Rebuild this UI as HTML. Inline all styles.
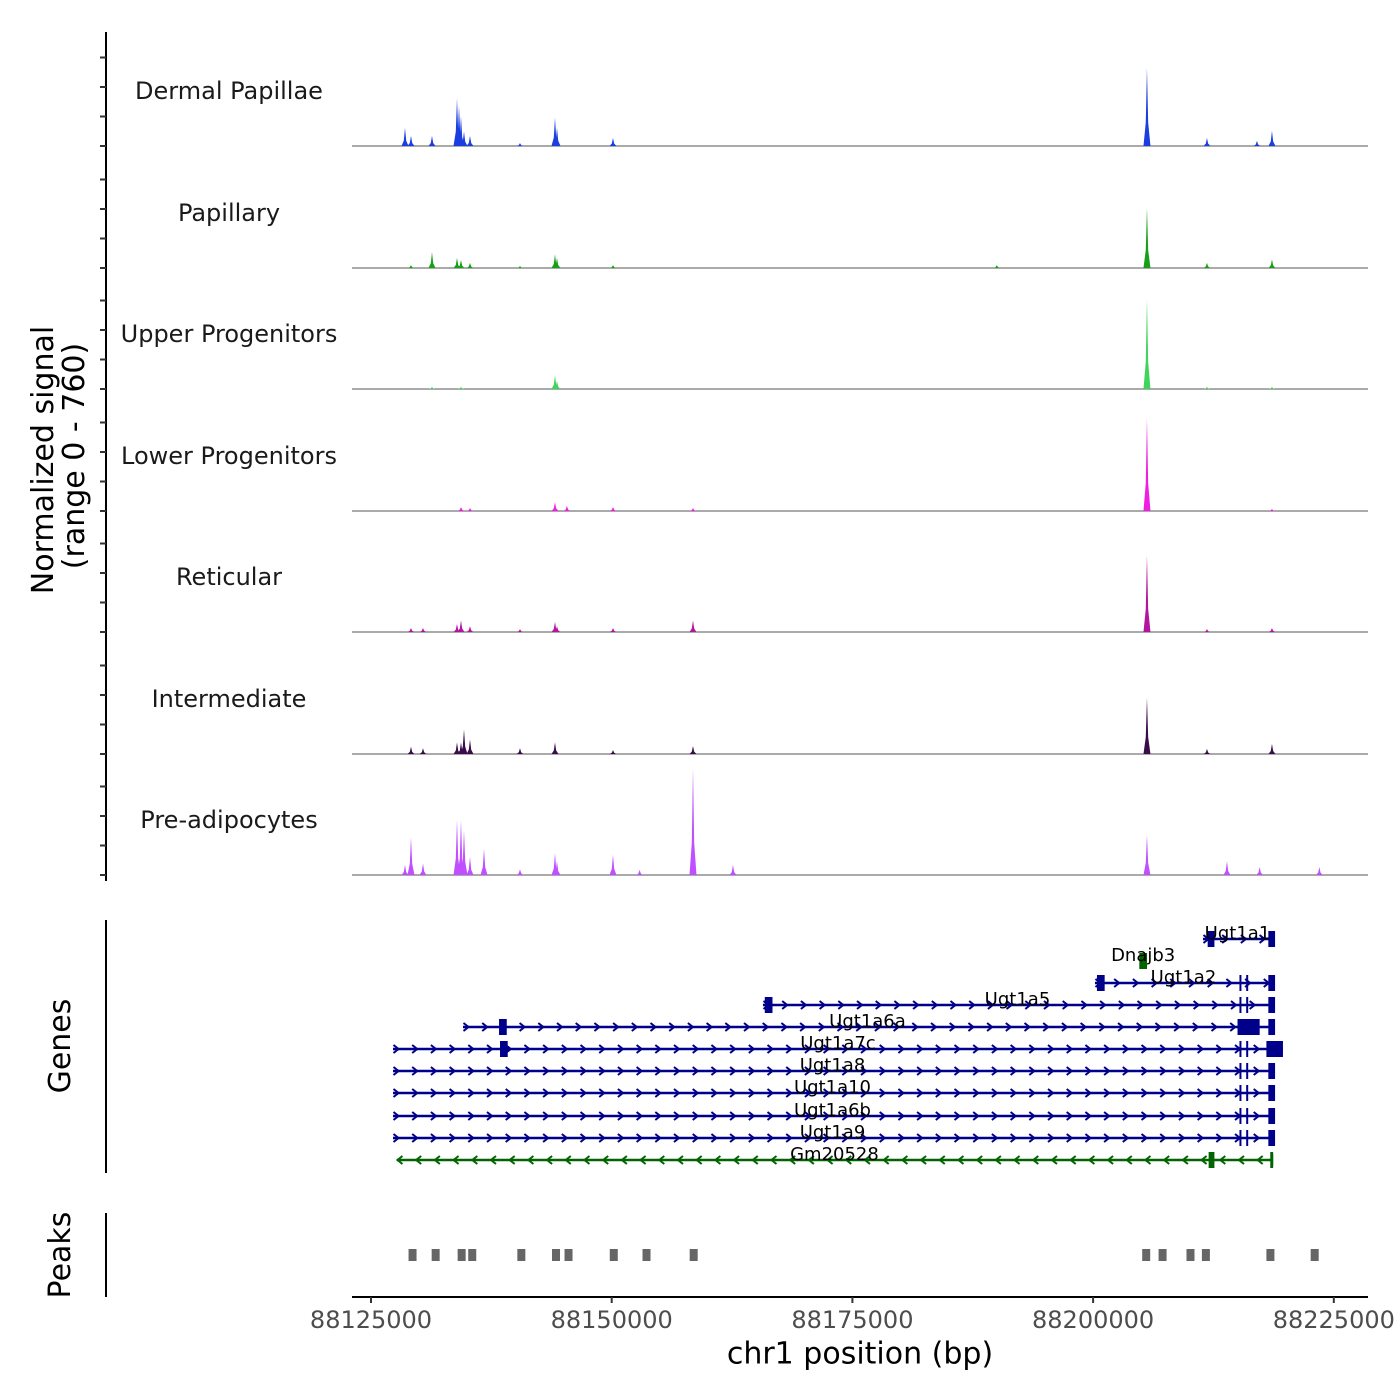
<!DOCTYPE html>
<html><head><meta charset="utf-8"><style>
html,body{margin:0;padding:0;background:#fff}
svg{display:block;font-family:"DejaVu Sans","Liberation Sans",sans-serif}
</style></head><body>
<svg id="c" width="1400" height="1400" viewBox="0 0 1400 1400" xmlns="http://www.w3.org/2000/svg"></svg>
<script>
// ---- data ----
const xTicks = [88125000, 88150000, 88175000, 88200000, 88225000];
const trackNames = ["Dermal Papillae","Papillary","Upper Progenitors","Lower Progenitors","Reticular","Intermediate","Pre-adipocytes"];
const trackColors = ["#1a3ee0","#17a017","#3fd45a","#f01ee0","#b3169e","#3a0c4a","#c050ff"];
const dpPos = [88128531,88129154,88131335,88133932,88134140,88134347,88134659,88135282,88140475,88144110,88144318,88150134,88205595,88211827,88217020,88218578];
const dpVal = [125,70,70,330,275,205,100,70,20,195,125,55,540,55,35,105];
const papPos = [88129154,88131335,88133932,88134347,88135282,88140475,88144110,88144318,88150134,88190000,88205595,88211827,88218578];
const papVal = [20,110,70,55,35,14,95,70,20,20,415,35,60];
const upPos = [88131335,88134347,88144110,88144318,88205595,88211827,88218578];
const upVal = [14,14,95,55,620,14,14];
const lowPos = [88134347,88135282,88144110,88145350,88150134,88158443,88205595,88218578];
const lowVal = [28,20,60,35,28,20,640,14];
const retPos = [88129154,88130400,88133932,88134347,88135282,88140475,88144110,88144318,88150134,88158443,88205595,88211827,88218578];
const retVal = [28,28,55,80,40,20,70,40,28,80,530,20,28];
const intPos = [88129154,88130400,88133932,88134347,88134659,88135282,88140475,88144110,88150134,88158443,88205595,88211827,88218578];
const intVal = [50,40,80,80,170,100,40,80,28,55,390,35,70];
const prePos = [88128531,88129154,88130400,88133932,88134347,88134659,88135282,88136736,88140475,88144110,88144318,88150134,88152900,88158443,88162597,88205595,88213904,88217300,88223500];
const preVal = [70,260,80,380,380,310,125,180,40,150,95,140,35,740,70,275,95,55,55];
const trackPos = [dpPos,papPos,upPos,lowPos,retPos,intPos,prePos];
const trackVal = [dpVal,papVal,upVal,lowVal,retVal,intVal,preVal];
const peakStarts = [88128900,88131300,88134000,88135100,88140200,88143800,88145100,88149800,88153200,88158100,88205100,88206800,88209700,88211300,88218000,88222600];
const geneNames = ["Ugt1a1","Dnajb3","Ugt1a2","Ugt1a5","Ugt1a6a","Ugt1a7c","Ugt1a8","Ugt1a10","Ugt1a6b","Ugt1a9","Gm20528"];
const geneStart = [88211412,88204800,88200195,88165713,88134555,88127285,88127285,88127285,88127285,88127285,88127700];
const geneEnd = [88218578,88205600,88218578,88218578,88218578,88219720,88218578,88218578,88218578,88218578,88218578];
const geneStrand = [1,1,1,1,1,1,1,1,1,1,-1];
const geneExons = [
 [[88211900,88212600],[88218200,88218900]],
 [[88204800,88205600]],
 [[88200400,88201200],[88215200,88215300],[88215900,88216000],[88218200,88218900]],
 [[88165900,88166700],[88215200,88215300],[88215900,88216000],[88218200,88218900]],
 [[88138300,88139100],[88215000,88217300],[88218200,88218900]],
 [[88138400,88139200],[88215200,88215300],[88215900,88216000],[88218000,88219720]],
 [[88215200,88215300],[88215900,88216000],[88218200,88218900]],
 [[88215200,88215300],[88215900,88216000],[88218200,88218900]],
 [[88215200,88215300],[88215900,88216000],[88218200,88218900]],
 [[88215200,88215300],[88215900,88216000],[88218200,88218900]],
 [[88212000,88212600],[88218400,88218700]]
];
const geneColor = ["#00008b","#006400","#00008b","#00008b","#00008b","#00008b","#00008b","#00008b","#00008b","#00008b","#006400"];

// ---- scales ----
const X0=371, PXPER=240.7/25000;
function xs(bp){return X0+(bp-88125000)*PXPER;}
const baselines=[146,268,389,511,632,754,875];
function ys(v){return v/760*110;}
const NS="http://www.w3.org/2000/svg";
const svg=document.getElementById('c');
function el(tag,attrs,parent){const e=document.createElementNS(NS,tag);for(const k in attrs)e.setAttribute(k,attrs[k]);(parent||svg).appendChild(e);return e;}

for(let t=0;t<7;t++){
  const g=el('g',{});
  
  
  const b=baselines[t];
  const lab=el('text',{x:229,y:b-54,'font-size':24,fill:'#1a1a1a','text-anchor':'middle','dominant-baseline':'middle'},g);
  lab.textContent=trackNames[t];
  
  
  const bl=el('line',{x1:352,x2:1368,y1:b,y2:b,stroke:'#555',"stroke-width":1},g);
  
  
  const P=trackPos[t],V=trackVal[t];
  for(let i=0;i<P.length;i++){
    const x=xs(P[i]),h=ys(V[i]);
    const p=el('polygon',{points:`${x-3.5},${b} ${x-1.2},${b-h*0.3} ${x},${b-h} ${x+1.2},${b-h*0.3} ${x+3.5},${b}`,fill:trackColors[t]},g);
    
    
  }
}
const ax1=el('line',{x1:106,x2:106,y1:32,y2:881,stroke:'#000','stroke-width':2});


for(let t=0;t<7;t++){for(let k=0;k<4;k++){const y=baselines[t]-k*29.5;
  const tk=el('line',{x1:100,x2:106,y1:y,y2:y,stroke:'#333','stroke-width':2});
  
  }}
const yt=el('text',{transform:'translate(53,460) rotate(-90)','font-size':30,'text-anchor':'middle',fill:'#000'});


yt.textContent='Normalized signal';
const yt2=el('text',{transform:'translate(84,456) rotate(-90)','font-size':30,'text-anchor':'middle',fill:'#000'});


yt2.textContent='(range 0 - 760)';

const ax2=el('line',{x1:106,x2:106,y1:920,y2:1173,stroke:'#000','stroke-width':2});


const gt=el('text',{transform:'translate(70,1046) rotate(-90)','font-size':30,'text-anchor':'middle',fill:'#000'});


gt.textContent='Genes';
const rowY=[939,961,983,1005,1027,1049,1071,1093,1116,1138,1160];
for(let i=0;i<geneNames.length;i++){
  const g=el('g',{});
  
  
  const y=rowY[i],c=geneColor[i],x1=xs(geneStart[i]),x2=xs(geneEnd[i]);
  if(geneNames[i]!=='Dnajb3') el('line',{x1:x1,x2:x2,y1:y,y2:y,stroke:c,'stroke-width':2.5},g);
  if(geneNames[i]!=='Dnajb3'){
    const s=geneStrand[i];
    for(let x=x1+3;x<x2-4;x+=18.7){
      el('polyline',{points:`${x-2.5*s},${y-4} ${x+2.5*s},${y} ${x-2.5*s},${y+4}`,fill:'none',stroke:c,'stroke-width':2},g);
    }
    if(s<0) el('line',{x1:x2,x2:x2,y1:y-6,y2:y+6,stroke:c,'stroke-width':2.5},g);
  }
  for(const ex of geneExons[i]){
    const a=xs(ex[0]),w=Math.max(2,xs(ex[1])-a);
    el('rect',{x:a,y:y-8,width:w,height:16,fill:c},g);
  }
  const tx=el('text',{x:(x1+x2)/2,y:y-5,'font-size':18,'text-anchor':'middle','dominant-baseline':'middle',fill:'#000'},g);
  tx.textContent=geneNames[i];
  
  
}

const ax3=el('line',{x1:106,x2:106,y1:1213,y2:1297,stroke:'#000','stroke-width':2});


const pt=el('text',{transform:'translate(70,1255) rotate(-90)','font-size':30,'text-anchor':'middle',fill:'#000'});


pt.textContent='Peaks';
for(const p of peakStarts){
  const r=el('rect',{x:xs(p),y:1249,width:8,height:12,fill:'#666'});
  
  
}

const xa=el('line',{x1:352,x2:1368,y1:1297,y2:1297,stroke:'#000','stroke-width':2});


for(const t of xTicks){
  const x=xs(t);
  const tk=el('line',{x1:x,x2:x,y1:1297,y2:1303,stroke:'#333','stroke-width':2});
  
  
  const tl=el('text',{x:x,y:1321,'font-size':24,'text-anchor':'middle','dominant-baseline':'middle',fill:'#4d4d4d'});
  tl.textContent=t;
  
  
}
const xt=el('text',{x:860,y:1355,'font-size':30,'text-anchor':'middle','dominant-baseline':'middle',fill:'#000'});


xt.textContent='chr1 position (bp)';
</script>
</body></html>
